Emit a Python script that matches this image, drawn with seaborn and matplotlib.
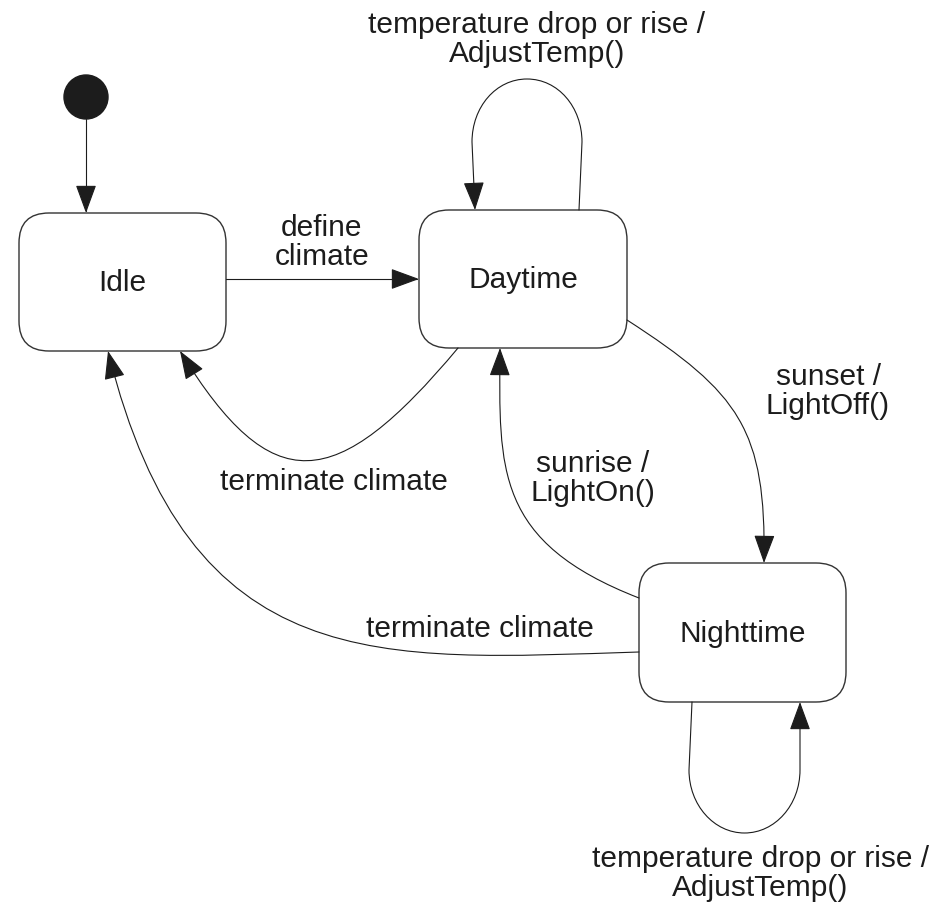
import matplotlib
matplotlib.use("Agg")
import matplotlib.pyplot as plt
import seaborn as sns
from matplotlib.patches import FancyBboxPatch, FancyArrowPatch, Circle
from matplotlib.path import Path

# 状態（左, 上, 幅, 高さ） ピクセル座標、y は下向き
state_names = ["Idle", "Daytime", "Nighttime"]
state_boxes = [(19, 213, 207, 138), (419, 210, 208, 138), (639, 563, 207, 139)]
state_text_pos = [(122.5, 291), (523, 288), (742.5, 642)]

initial_center = (86, 97)
initial_radius = 22

# 遷移の形（M=移動, L=直線, C=3次ベジェ）
edge_paths = [
    [("M", (86, 119)), ("L", (86, 213))],
    [("M", (226, 279)), ("L", (419, 279))],
    [("M", (579, 210)), ("L", (582, 142)),
     ("C", (582, 107), (558, 79), (527, 79)),
     ("C", (496, 79), (472, 107), (472, 142)),
     ("L", (475, 210))],
    [("M", (627, 320)), ("C", (740, 393), (766, 430), (764, 563))],
    [("M", (639, 598)), ("C", (495, 542), (499, 470), (500, 348))],
    [("M", (458, 348)), ("C", (335, 495), (272, 500), (180, 351))],
    [("M", (639, 652)), ("C", (380, 660), (190, 680), (108, 351))],
    [("M", (692, 702)), ("L", (689, 770)),
     ("C", (689, 805), (714, 833), (744.5, 833)),
     ("C", (775, 833), (800, 805), (800, 770)),
     ("L", (800, 702))],
]

# 遷移ラベル（行ごと）と中心 x, 1 行目のベースライン y
edge_labels = [
    ["define", "climate"],
    ["temperature drop or rise /", "AdjustTemp()"],
    ["sunset /", "LightOff()"],
    ["sunrise /", "LightOn()"],
    ["terminate climate"],
    ["terminate climate"],
    ["temperature drop or rise /", "AdjustTemp()"],
]
edge_label_pos = [(322, 236), (537, 33), (828, 385), (593, 472),
                  (334, 490), (480, 637), (760, 867)]
LINE_GAP = 29
FONT_SIZE = 21.5

INK = "#1c1c1c"


def make_path(spec):
    """M/L/C の指定リストから matplotlib の Path を作る"""
    verts, codes = [], []
    for seg in spec:
        kind, pts = seg[0], seg[1:]
        if kind == "M":
            verts.append(pts[0]); codes.append(Path.MOVETO)
        elif kind == "L":
            verts.append(pts[0]); codes.append(Path.LINETO)
        else:
            verts.extend(pts); codes.extend([Path.CURVE4] * 3)
    return Path(verts, codes)


sns.set_theme(style="white")
plt.rcParams["font.family"] = ["Liberation Sans", "DejaVu Sans"]

fig = plt.figure(figsize=(9.36, 9.06), dpi=100)
ax = fig.add_axes([0, 0, 1, 1])
ax.set_xlim(0, 936)
ax.set_ylim(906, 0)
ax.set_axis_off()

# 開始状態
ax.add_patch(Circle(initial_center, initial_radius, color=INK, zorder=3))

# 状態の角丸ボックス
for name, (x, y, w, h), (tx, ty) in zip(state_names, state_boxes, state_text_pos):
    ax.add_patch(FancyBboxPatch((x, y), w, h,
                                boxstyle="round,pad=0,rounding_size=30",
                                facecolor="white", edgecolor="#333333",
                                linewidth=1.0, zorder=2))
    ax.text(tx, ty, name, ha="center", va="baseline", fontsize=FONT_SIZE,
            color=INK)

# 遷移矢印
for spec in edge_paths:
    arrow = FancyArrowPatch(path=make_path(spec),
                            arrowstyle="-|>,head_length=0.9,head_width=0.33",
                            mutation_scale=20, color=INK, linewidth=0.8,
                            zorder=4)
    ax.add_patch(arrow)

# 遷移ラベル
for lines, (cx, by) in zip(edge_labels, edge_label_pos):
    for i, line in enumerate(lines):
        ax.text(cx, by + i * LINE_GAP, line, ha="center", va="baseline",
                fontsize=FONT_SIZE, color=INK)

plt.savefig("out.png", dpi=100, facecolor="white")
plt.close()
